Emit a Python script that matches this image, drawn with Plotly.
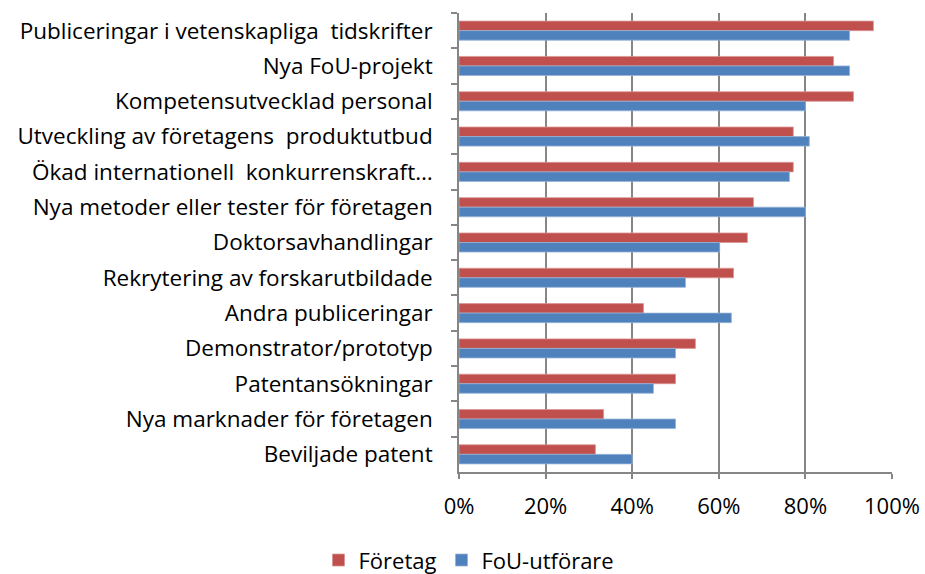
import plotly.graph_objects as go

categories = [
    "Publiceringar i vetenskapliga  tidskrifter",
    "Nya FoU-projekt",
    "Kompetensutvecklad personal",
    "Utveckling av företagens  produktutbud",
    "Ökad internationell  konkurrenskraft…",
    "Nya metoder eller tester för företagen",
    "Doktorsavhandlingar",
    "Rekrytering av forskarutbildade",
    "Andra publiceringar",
    "Demonstrator/prototyp",
    "Patentansökningar",
    "Nya marknader för företagen",
    "Beviljade patent",
]
foretag = [0.957, 0.865, 0.911, 0.772, 0.772, 0.680, 0.666, 0.634, 0.426, 0.546, 0.500, 0.334, 0.315]
fou = [0.902, 0.902, 0.800, 0.809, 0.763, 0.800, 0.602, 0.523, 0.629, 0.500, 0.449, 0.500, 0.400]
x_ticks = [0, 0.2, 0.4, 0.6, 0.8, 1.0]
x_tick_labels = ["0%", "20%", "40%", "60%", "80%", "100%"]

FONT = "Open Sans, Noto Sans, sans-serif"

fig = go.Figure()
fig.add_trace(go.Bar(
    y=categories, x=foretag, orientation="h", name="Företag",
    marker=dict(color="#C0504D", line=dict(color="#D99694", width=0.8)),
))
fig.add_trace(go.Bar(
    y=categories, x=fou, orientation="h", name="FoU-utförare",
    marker=dict(color="#4F81BD", line=dict(color="#95B3D7", width=0.8)),
))

fig.update_layout(
    width=925, height=574,
    margin=dict(l=459, r=33, t=13, b=102, autoexpand=False),
    paper_bgcolor="white", plot_bgcolor="white",
    barmode="group", bargap=0.46, bargroupgap=0.0,
    font=dict(family=FONT, size=22.5, color="#000000"),
    showlegend=True,
    legend=dict(orientation="h", x=0.507, xref="container", xanchor="center",
                y=0.024, yref="container", yanchor="middle", font=dict(size=22),
                itemwidth=30, tracegroupgap=0, bgcolor="rgba(0,0,0,0)"),
)
fig.update_xaxes(
    range=[0, 1.0], tickvals=x_ticks, ticktext=x_tick_labels,
    showgrid=True, gridcolor="#868686", gridwidth=1.6,
    showline=True, linecolor="#868686", linewidth=1.6,
    ticks="outside", ticklen=5, tickcolor="#868686", tickwidth=1.6,
    ticklabelstandoff=9, zeroline=False, mirror=False, automargin=False,
    tickfont=dict(size=22), ticklabeloverflow="allow",
)
fig.update_yaxes(
    autorange="reversed", type="category",
    showline=True, linecolor="#868686", linewidth=1.6,
    ticks="outside", ticklen=6, tickcolor="#868686", tickwidth=1.6,
    tickson="boundaries", ticklabelstandoff=20, showgrid=False, automargin=False,
)

fig.write_html(
    "out.html",
    config={"displayModeBar": False},
    post_script="document.body.style.margin='0';document.body.style.overflow='hidden';",
)
